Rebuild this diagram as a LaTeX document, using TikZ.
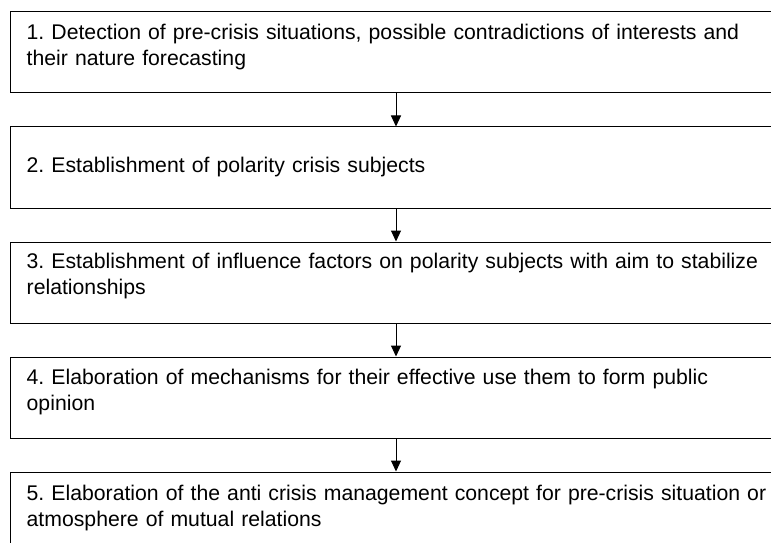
\documentclass[tikz,border=0pt]{standalone}
\usepackage{fontspec}
\setmainfont{Liberation Sans}
\usetikzlibrary{arrows.meta,positioning}

\begin{document}
\frenchspacing
\begin{tikzpicture}[
x=1bp, y=-1bp,
stepbox/.style={
    draw,
    line width=1bp,
    minimum width=770bp,
    minimum height=81bp,
    inner sep=0pt
    },
steptext/.style={
    anchor=base west,
    inner sep=0pt,
    text width=760bp,
    align=left,
    font=\fontsize{21.3}{26}\selectfont
    },
flow/.style={
    -{Triangle[width=10bp,length=11bp]},
    line width=1bp
    },
node distance=33bp
]
\useasboundingbox (0,0) rectangle (771,543);

\node[stepbox] (box1) at (396,52.5) {};
\node[stepbox, below=of box1] (box2) {};
\node[stepbox, below=of box2] (box3) {};
\node[stepbox, below=of box3] (box4) {};
\node[stepbox, below=of box4] (box5) {};

\node[steptext] (text1) at ([xshift=16bp,yshift=-28bp]box1.north west)
    {1. Detection of pre-crisis situations, possible contradictions of interests and\\their nature forecasting};
\node[steptext] (text2) at ([xshift=16bp,yshift=-46bp]box2.north west)
    {2. Establishment of polarity crisis subjects};
\node[steptext] (text3) at ([xshift=16bp,yshift=-27bp]box3.north west)
    {3. Establishment of influence factors on polarity subjects with aim to stabilize\\relationships};
\node[steptext] (text4) at ([xshift=16bp,yshift=-28bp]box4.north west)
    {4. Elaboration of mechanisms for their effective use them to form public\\opinion};
\node[steptext] (text5) at ([xshift=16bp,yshift=-29bp]box5.north west)
    {5. Elaboration of the anti crisis management concept for pre-crisis situation or\\atmosphere of mutual relations};

\draw[flow] (box1) -- (box2);
\draw[flow] (box2) -- (box3);
\draw[flow] (box3) -- (box4);
\draw[flow] (box4) -- (box5);

\end{tikzpicture}
\end{document}
